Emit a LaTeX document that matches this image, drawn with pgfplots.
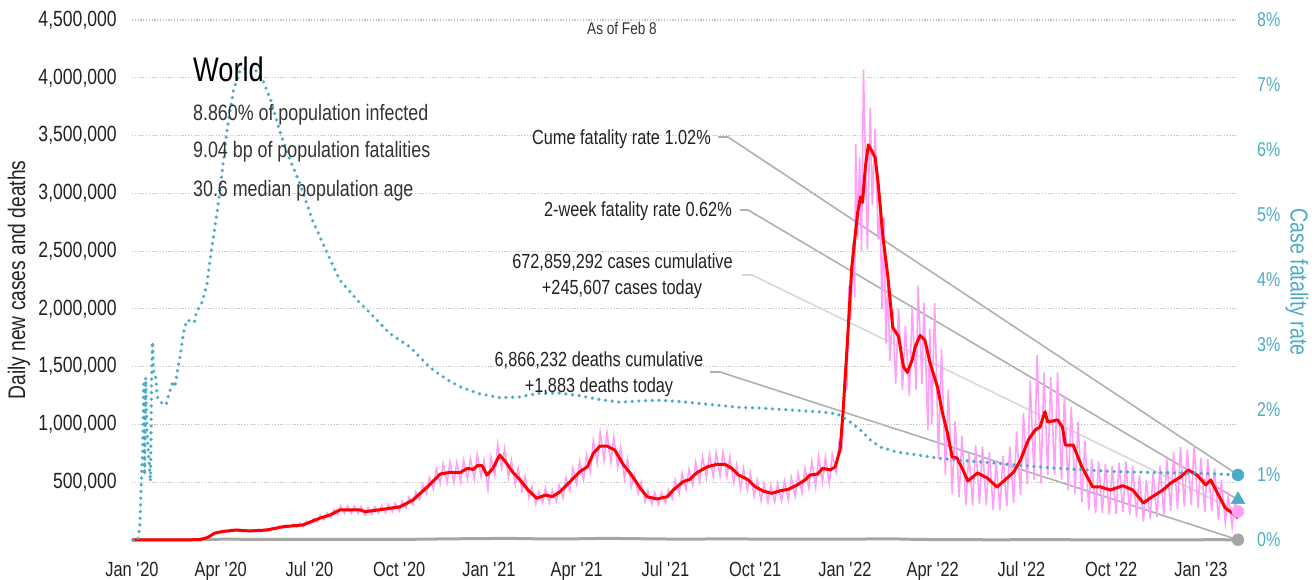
\documentclass[border=0pt]{standalone}
\usepackage{fontspec}
\setmainfont{Liberation Sans}[FakeStretch=0.8]
\usepackage{pgfplots}
\pgfplotsset{compat=1.18}
\definecolor{pinkc}{HTML}{FFA0F8}
\definecolor{tealc}{HTML}{4BACC6}
\definecolor{deathc}{HTML}{A6A6A6}
\definecolor{connc}{HTML}{B0B0B0}
\definecolor{connl}{HTML}{D8D8D8}
\definecolor{gridc}{HTML}{C4C4C4}
\definecolor{txt}{HTML}{222222}
\definecolor{txtb}{HTML}{333333}
\newcommand{\fs}[1]{\fontsize{#1}{#1}\selectfont}

\pgfplotstableread{
day cases
0 0
60 1000
64 2000
67 3000
71 6000
74 15000
78 22000
81 45000
85 53000
88 73000
92 63000
95 85000
99 70000
102 92000
106 76000
109 95000
113 72000
116 90000
120 69000
123 89000
127 71000
130 93000
134 74000
137 97000
141 80000
144 108000
148 91000
151 122000
155 101000
158 132000
162 106000
165 138000
169 111000
172 145000
176 117000
179 161000
183 136000
186 186000
190 158000
193 215000
197 176000
200 235000
204 194000
207 264000
211 221000
214 294000
218 229000
221 294000
225 229000
228 294000
232 229000
235 290000
239 216000
242 280000
246 223000
249 289000
253 230000
256 298000
260 237000
263 308000
267 245000
270 318000
274 253000
277 335000
281 277000
284 370000
288 304000
291 417000
295 352000
298 478000
302 399000
305 540000
309 440000
312 618000
316 485000
319 661000
323 494000
326 673000
330 496000
333 670000
337 499000
340 691000
344 527000
347 707000
351 526000
354 739000
358 547000
361 690000
365 440000
368 720000
372 560000
375 830000
379 620000
382 790000
386 540000
389 690000
393 480000
396 620000
400 425000
403 550000
407 360000
410 460000
414 310000
417 420000
421 320000
424 450000
428 320000
431 430000
435 335000
438 475000
442 365000
445 540000
449 430000
452 620000
456 480000
459 680000
463 520000
466 740000
470 590000
473 860000
477 670000
480 930000
484 690000
487 930000
491 670000
494 890000
498 630000
501 800000
505 530000
508 700000
512 460000
515 560000
519 400000
522 500000
526 330000
529 430000
533 310000
536 410000
540 305000
543 410000
547 320000
550 440000
554 360000
557 520000
561 400000
564 580000
568 440000
571 610000
575 470000
578 670000
582 505000
585 720000
589 540000
592 740000
596 550000
599 755000
603 555000
606 760000
610 550000
613 720000
617 500000
620 650000
624 450000
627 620000
631 430000
634 580000
638 380000
641 520000
645 340000
648 490000
652 330000
655 470000
659 330000
662 490000
666 340000
669 510000
673 350000
676 540000
680 380000
683 580000
687 410000
690 620000
694 450000
697 680000
701 460000
704 720000
708 500000
711 720000
715 490000
718 740000
722 590000
725 850000
728 800000
731 1500000
733 1300000
735 2200000
737 1900000
739 2570000
741 2100000
742 3430000
744 2600000
746 3310000
748 2500000
750 4070000
754 2510000
757 3740000
759 2900000
762 3560000
765 2600000
767 2850000
769 2000000
771 2790000
773 1700000
775 2250000
777 1550000
780 2000000
783 1350000
786 2000000
790 1300000
793 1850000
797 1250000
800 2000000
804 1300000
806 2200000
810 1350000
812 2050000
816 950000
818 1830000
820 1000000
823 2050000
827 700000
830 1650000
834 560000
837 1300000
841 400000
844 1030000
848 370000
851 900000
855 300000
858 750000
862 300000
865 820000
869 310000
872 810000
876 300000
879 760000
883 260000
886 680000
890 260000
893 730000
897 290000
900 810000
904 320000
907 940000
911 390000
914 1100000
918 480000
921 1380000
925 520000
928 1600000
932 490000
935 1450000
939 560000
942 1410000
946 560000
949 1450000
953 520000
956 1250000
960 430000
963 1150000
967 400000
970 1020000
974 330000
977 860000
981 260000
984 700000
988 230000
991 680000
995 230000
998 660000
1002 220000
1005 640000
1009 225000
1012 670000
1016 240000
1019 680000
1023 220000
1026 640000
1030 200000
1033 560000
1037 160000
1040 520000
1044 180000
1047 580000
1051 200000
1054 640000
1058 220000
1061 700000
1065 250000
1068 760000
1072 270000
1075 805000
1079 290000
1082 780000
1086 300000
1089 820000
1093 280000
1096 709000
1100 240000
1103 700000
1107 250000
1110 620000
1114 170000
1117 520000
1121 150000
1124 380000
1128 112000
1131 330000
1134 245607
}\dailycases

\pgfplotstableread{
day avg
0 0
59 1000
70 5000
77 20000
85 60000
92 72000
106 86000
121 78000
138 86000
155 115000
175 130000
193 190000
203 216000
213 260000
234 260000
239 245000
257 265000
275 288000
288 346000
303 461000
316 571000
326 585000
336 582000
344 620000
350 611000
354 643000
359 643000
364 562000
370 620000
377 735000
383 677000
390 591000
398 519000
406 433000
415 361000
424 389000
431 375000
439 418000
449 504000
459 591000
467 634000
473 750000
480 813000
487 813000
495 779000
504 649000
511 577000
521 450000
528 375000
538 355000
549 375000
555 433000
565 504000
572 525000
579 582000
590 634000
600 655000
608 655000
615 620000
622 562000
631 525000
639 461000
647 424000
656 404000
665 427000
673 439000
682 476000
690 519000
695 562000
703 571000
708 620000
716 606000
721 634000
726 779000
729 1100000
733 1640000
738 2360000
744 2830000
747 2970000
749 2920000
752 3230000
755 3420000
759 3360000
762 3310000
765 3090000
770 2620000
775 2280000
780 1840000
786 1760000
791 1500000
795 1450000
800 1560000
803 1670000
808 1770000
813 1730000
818 1540000
826 1320000
831 1100000
836 930000
841 718000
846 709000
852 606000
857 510000
867 580000
877 536000
887 459000
895 519000
904 588000
911 692000
919 865000
926 952000
931 978000
936 1110000
939 1020000
949 1040000
954 978000
957 822000
965 822000
974 632000
985 459000
993 459000
1003 433000
1016 470000
1026 433000
1037 320000
1044 363000
1057 433000
1065 493000
1075 545000
1083 606000
1092 562000
1101 476000
1106 519000
1114 389000
1121 277000
1128 234000
1134 190000
}\avgcases

\pgfplotstableread{
day deaths
0 0
20 100
40 300
60 500
70 1500
80 4000
90 6500
100 7000
110 6500
120 5500
135 5000
150 4500
165 4800
180 5000
200 5800
220 5800
240 5500
260 5400
280 5700
300 7000
320 9500
340 11000
360 11500
380 14000
400 12500
420 9500
440 9000
460 11000
480 13500
500 13000
520 11000
540 9000
560 8000
580 8000
600 9500
620 9500
640 8000
660 7000
680 7000
700 6800
720 6500
740 7000
760 9500
780 10000
800 6000
820 4000
850 2500
880 2000
910 2200
940 2500
970 2000
1000 1600
1030 1600
1060 1400
1090 1800
1110 2500
1125 2000
1134 1883
}\deaths

\pgfplotstableread{
day cfr
1 0
6 0
8 0.2
10 1.1
11 1.4
12 2.4
13 1.0
14 2.5
15 1.8
17 1.3
19 0.9
20 2.4
21 3.05
22 2.6
24 2.55
26 2.2
28 2.15
31 2.1
35 2.08
37 2.2
40 2.35
42 2.45
44 2.35
46 2.55
50 2.89
53 3.2
56 3.38
60 3.37
64 3.35
66 3.5
72 3.66
77 3.95
80 4.31
88 5.12
93 5.74
97 6.26
104 6.92
111 7.23
124 7.28
134 7.08
143 6.74
151 6.31
162 5.85
172 5.49
185 4.92
200 4.42
213 4.0
231 3.69
241 3.54
264 3.18
285 2.97
305 2.66
316 2.54
324 2.46
336 2.36
356 2.25
377 2.19
397 2.2
418 2.26
438 2.26
459 2.22
480 2.16
500 2.12
521 2.14
541 2.15
562 2.13
582 2.1
603 2.07
623 2.04
644 2.03
665 2.01
685 1.99
706 1.97
723 1.94
730 1.88
736 1.82
747 1.69
757 1.54
767 1.43
785 1.35
805 1.31
826 1.26
846 1.23
870 1.2
887 1.18
942 1.11
1010 1.05
1078 1.03
1106 1.02
1134 1.0
}\cfr

\begin{document}
\begin{tikzpicture}[x=1pt,y=1pt]
% connector lines from the annotations to the end markers
\draw[connc, line width=1.6pt] (586,403) -- (596,403) -- (1106,65);
\draw[connc, line width=1.6pt] (608,330) -- (616,330) -- (1106,40.3);
\draw[connl, line width=1.6pt] (610,265) -- (620,265) -- (1106,28.4);
\draw[connc, line width=1.6pt] (578,168) -- (588,168) -- (1106,0.2);

\begin{axis}[
  at={(0,0)}, anchor=south west,
  scale only axis, width=1106pt, height=520pt,
  xmin=0, xmax=1134, ymin=0, ymax=4500000,
  clip=false,
  scaled y ticks=false, scaled x ticks=false,
  axis line style={draw=none},
  tick style={draw=none}, major tick length=0pt,
  /pgf/number format/assume math mode=true,
  xtick={0,91,182,274,366,456,547,639,731,821,912,1004,1096},
  xticklabels={Jan \textquotesingle20,Apr \textquotesingle20,Jul \textquotesingle20,Oct \textquotesingle20,Jan \textquotesingle21,Apr \textquotesingle21,Jul \textquotesingle21,Oct \textquotesingle21,Jan \textquotesingle22,Apr \textquotesingle22,Jul \textquotesingle22,Oct \textquotesingle22,Jan \textquotesingle23},
  ytick={500000,1000000,1500000,2000000,2500000,3000000,3500000,4000000,4500000},
  yticklabels={{500,000},{1,000,000},{1,500,000},{2,000,000},{2,500,000},{3,000,000},{3,500,000},{4,000,000},{4,500,000}},
  xticklabel style={anchor=base, inner sep=0pt, yshift=-37pt, font=\fs{20.5}, text=txt},
  yticklabel style={anchor=east, inner sep=0pt, xshift=-15pt, font=\fs{22}, text=txt},
  ymajorgrids,
  major grid style={gridc, line width=1.2pt, dash pattern=on 1.2pt off 1.6pt},
]
\addplot[pinkc, line width=1.6pt] table[x=day, y=cases] {\dailycases};
\addplot[deathc, line width=3pt] table[x=day, y=deaths] {\deaths};
\addplot[red, line width=3pt, line join=round] table[x=day, y=avg] {\avgcases};
\addplot[only marks, mark=*, mark size=6pt, color=pinkc] coordinates {(1134,245607)};
\addplot[only marks, mark=*, mark size=6pt, color=deathc] coordinates {(1134,1883)};
\end{axis}

\begin{axis}[
  at={(0,0)}, anchor=south west,
  scale only axis, width=1106pt, height=520pt,
  xmin=0, xmax=1134, ymin=0, ymax=8,
  clip=false,
  axis y line*=right, axis x line=none,
  axis line style={draw=none},
  tick style={draw=none}, major tick length=0pt,
  /pgf/number format/assume math mode=true,
  xtick=\empty,
  ytick={0,1,2,3,4,5,6,7,8},
  yticklabels={0\%,1\%,2\%,3\%,4\%,5\%,6\%,7\%,8\%},
  yticklabel style={anchor=west, inner sep=0pt, xshift=19pt, font=\fs{20}, text=tealc},
]
\addplot[tealc, line width=3.6pt, line cap=round, dash pattern=on 0pt off 6.7pt] table[x=day, y=cfr] {\cfr};
\addplot[only marks, mark=*, mark size=6pt, color=tealc] coordinates {(1134,1.0)};
\addplot[only marks, mark=triangle*, mark size=8pt, color=tealc] coordinates {(1134,0.62)};
\end{axis}

% text
\node[anchor=base west, inner sep=0pt, font=\fs{34}, text=black] at (61,458) {World};
\node[anchor=base west, inner sep=0pt, font=\fs{22.3}, text=txtb] at (61,419) {8.860\% of population infected};
\node[anchor=base west, inner sep=0pt, font=\fs{22.3}, text=txtb] at (61,382) {9.04 bp of population fatalities};
\node[anchor=base west, inner sep=0pt, font=\fs{22.3}, text=txtb] at (61,343) {30.6 median population age};
\node[anchor=base, inner sep=0pt, font=\fs{17}, text=txtb] at (490,505) {As of Feb 8};
\node[anchor=base east, inner sep=0pt, font=\fs{20.4}, text=txt] at (579,395) {Cume fatality rate 1.02\%};
\node[anchor=base east, inner sep=0pt, font=\fs{20.4}, text=txt] at (600,323) {2-week fatality rate 0.62\%};
\node[anchor=base, inner sep=0pt, font=\fs{20.4}, text=txt] at (490.5,271) {672,859,292 cases cumulative};
\node[anchor=base, inner sep=0pt, font=\fs{20.4}, text=txt] at (490,245) {+245,607 cases today};
\node[anchor=base, inner sep=0pt, font=\fs{20.4}, text=txt] at (467,173) {6,866,232 deaths cumulative};
\node[anchor=base, inner sep=0pt, font=\fs{20.4}, text=txt] at (467,147) {+1,883 deaths today};
\node[rotate=90, inner sep=0pt, font=\fs{24}, text=txt] at (-113,260) {Daily new cases and deaths};
\node[rotate=-90, inner sep=0pt, font=\fs{24.5}, text=tealc] at (1165,258) {Case fatality rate};

\pgfresetboundingbox
\path[use as bounding box] (-132,-40) rectangle (1183,540);
\end{tikzpicture}
\end{document}
